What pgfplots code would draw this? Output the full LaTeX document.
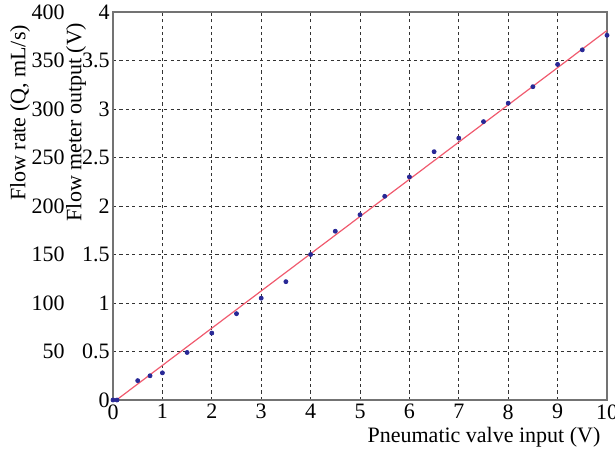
\documentclass[border=0pt]{standalone}
\usepackage{pgfplots}
\pgfplotsset{compat=1.18}
\usepackage{fontspec}
\setmainfont{Liberation Serif}

\definecolor{dotblue}{RGB}{40,40,150}
\definecolor{fitred}{RGB}{240,90,110}

\begin{document}
\fontsize{11}{13}\selectfont
\begin{tikzpicture}
\path[use as bounding box] (-56.5pt,-26pt) rectangle (251pt,200pt);

% main axis: flow meter output vs valve input
\begin{axis}[
    at={(0,0)}, anchor=south west,
    scale only axis, width=247pt, height=194pt,
    xmin=0, xmax=10, ymin=0, ymax=4,
    xtick={0,1,...,10},
    ytick={0,0.5,1,1.5,2,2.5,3,3.5,4},
    grid=major,
    grid style={black!80, line width=0.4pt, dash pattern=on 1.6pt off 1.6pt},
    axis line style={black!55, line width=0.6pt},
    tick style={draw=none},
    /pgf/number format/assume math mode=true,
    ticklabel style={font=\fontsize{11}{13}\selectfont},
    yticklabel style={inner sep=1.5pt},
    xticklabel style={inner sep=2pt},
    clip=false,
]
\addplot[fitred, line width=0.6pt] coordinates {(0.07,0) (10,3.81)};
\addplot[only marks, mark=*, mark size=1pt, color=dotblue] coordinates {
    (0,0) (0.08,0) (0.5,0.2) (0.75,0.25) (1,0.28) (1.5,0.49)
    (2,0.69) (2.5,0.89) (3,1.05) (3.5,1.22) (4,1.5) (4.5,1.74)
    (5,1.91) (5.5,2.1) (6,2.3) (6.5,2.56) (7,2.7) (7.5,2.87)
    (8,3.06) (8.5,3.23) (9,3.46) (9.5,3.61) (10,3.76)
};
\end{axis}

% outer scale: flow rate
\begin{axis}[
    at={(0,0)}, anchor=south west,
    scale only axis, width=247pt, height=194pt,
    xmin=0, xmax=10, ymin=0, ymax=400,
    hide x axis,
    axis line style={draw=none},
    tick style={draw=none},
    ytick={50,100,...,400},
    /pgf/number format/assume math mode=true,
    ticklabel style={font=\fontsize{11}{13}\selectfont},
    yticklabel style={inner sep=1.5pt, xshift=-22.5pt},
]
\addplot[draw=none] coordinates {(0,0) (10,400)};
\end{axis}

\node[rotate=90] at (-46.5pt,143.5pt) {Flow rate (Q, mL/s)};
\node[rotate=90] at (-18.5pt,139pt) {Flow meter output (V)};
\node at (185.5pt,-18.5pt) {Pneumatic valve input (V)};
\end{tikzpicture}
\end{document}
